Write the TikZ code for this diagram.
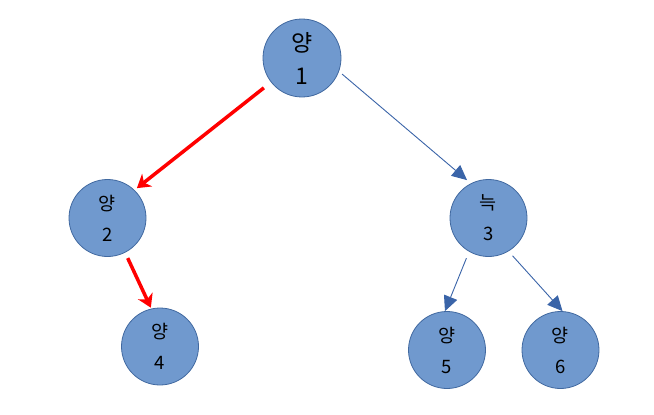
\documentclass[tikz,border=0pt]{standalone}
\usepackage{fontspec}
\setmainfont{Noto Sans CJK KR}
\usetikzlibrary{arrows.meta}
\definecolor{nodefill}{RGB}{112,153,206}
\definecolor{nodeline}{RGB}{65,105,160}
\definecolor{arrowblue}{RGB}{58,100,168}
\tikzset{
  treenode/.style={circle, draw=nodeline, line width=0.8pt, fill=nodefill, minimum size=77pt, inner sep=0pt, align=center, text=black},
  bignode/.style={treenode, minimum size=78pt, font=\fontsize{23}{33}\selectfont},
  smallnode/.style={treenode, font=\fontsize{18.5}{31}\selectfont},
  redarrow/.style={draw=red, line width=3.5pt, -{Stealth[length=13pt, width=16pt, inset=4pt]}},
  bluearrow/.style={draw=arrowblue, line width=0.9pt, -{Triangle[length=15pt, width=14pt]}}
}
\begin{document}
\begin{tikzpicture}[x=1pt, y=-1pt]
\useasboundingbox (0,0) rectangle (654,415);
\node[bignode] (n1) at (302,58) {양\\1};
\node[smallnode] (n2) at (107.5,218) {양\\2};
\node[smallnode] (n3) at (488.5,218) {늑\\3};
\node[smallnode] (n4) at (160,346.5) {양\\4};
\node[smallnode] (n5) at (447,350) {양\\5};
\node[smallnode] (n6) at (560.5,350) {양\\6};
\draw[redarrow, shorten <=9pt, shorten >=3pt] (n1.218) -- (n2.46);
\draw[redarrow, shorten <=6pt, shorten >=1pt] (n2.-63) -- (n4.103);
\draw[bluearrow, shorten <=4pt, shorten >=5pt] (n1.-20) -- (n3.117);
\draw[bluearrow, shorten <=7pt, shorten >=0pt] (n3.-120) -- (n5.93);
\draw[bluearrow, shorten <=6pt, shorten >=0pt] (n3.-59) -- (n6.87);
\end{tikzpicture}
\end{document}
